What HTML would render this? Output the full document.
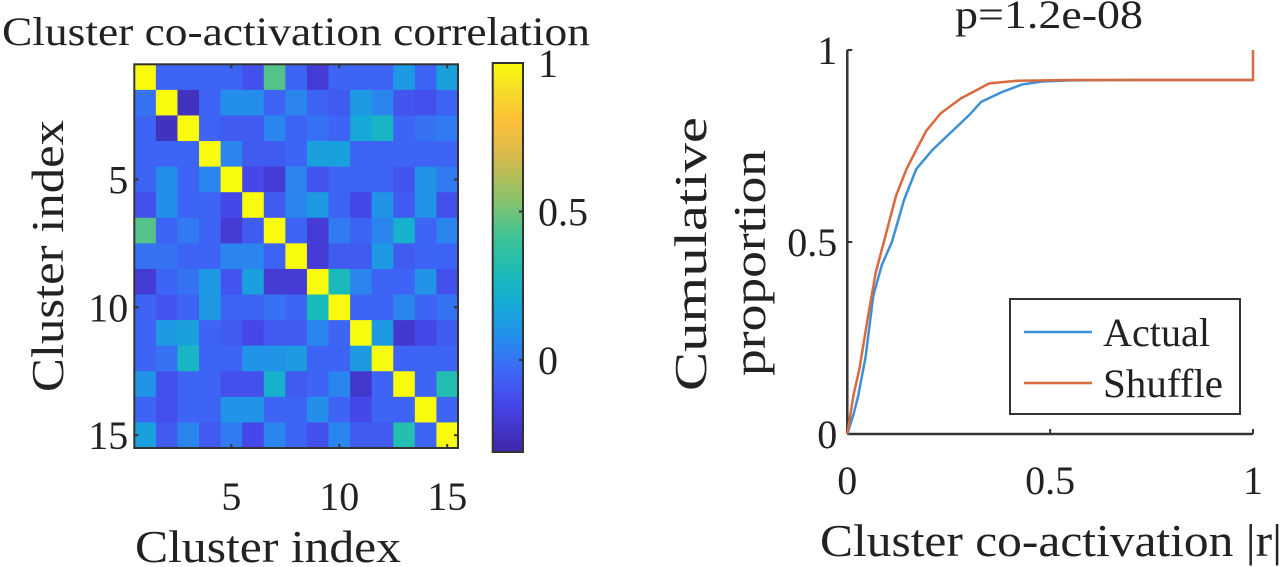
<!DOCTYPE html>
<html><head><meta charset="utf-8"><style>
body{margin:0;background:#fff;}
svg{display:block;font-family:"Liberation Serif",serif;}
</style></head><body>
<svg id="fig" width="1282" height="567" viewBox="0 0 1282 567">
<text x="2" y="45" font-size="40" textLength="588" lengthAdjust="spacingAndGlyphs" fill="#222">Cluster co-activation correlation</text>
<g id="heat"></g>
<g id="cbar"></g>
<text transform="translate(63,392) rotate(-90)" font-size="46" textLength="272" lengthAdjust="spacingAndGlyphs" fill="#222">Cluster index</text>
<text x="135" y="562" font-size="46" textLength="266" lengthAdjust="spacingAndGlyphs" fill="#222">Cluster index</text>
<text x="955" y="28" font-size="40" textLength="188" lengthAdjust="spacingAndGlyphs" fill="#222">p=1.2e-08</text>
<text transform="translate(706,391) rotate(-90)" font-size="46" textLength="274" lengthAdjust="spacingAndGlyphs" fill="#222">Cumulative</text>
<text transform="translate(765,376) rotate(-90)" font-size="46" textLength="226" lengthAdjust="spacingAndGlyphs" fill="#222">proportion</text>
<text x="820" y="556" font-size="46" textLength="462" lengthAdjust="spacingAndGlyphs" fill="#222">Cluster co-activation |r|</text>
<g id="cdf"></g>
</svg>
<script>
const NS="http://www.w3.org/2000/svg";
const heatValues=[
[1,-0.05,-0.05,-0.05,-0.05,-0.12,0.45,-0.05,-0.2,-0.05,-0.05,-0.05,0.12,-0.05,0.15],
[0,1,-0.25,-0.05,0.08,0.08,-0.05,0.05,-0.05,-0.08,0.12,0.05,-0.1,-0.12,-0.05],
[-0.05,-0.25,1,-0.05,-0.08,-0.08,0.05,-0.05,0,-0.05,0.18,0.25,-0.05,0,0.02],
[-0.05,-0.05,-0.05,1,0.05,-0.08,-0.08,-0.05,0.15,0.15,-0.05,-0.05,-0.05,-0.05,-0.05],
[-0.05,0.08,-0.05,0.05,1,-0.15,-0.2,0.05,-0.1,-0.05,-0.05,-0.05,-0.1,0.1,0.02],
[-0.12,0.08,-0.05,-0.05,-0.15,1,-0.08,0.05,0.12,-0.05,-0.15,0.1,-0.08,0.1,-0.12],
[0.45,-0.05,0.02,-0.05,-0.2,-0.08,1,-0.05,-0.2,0.02,-0.05,0.05,0.22,-0.05,0.05],
[0,0,-0.05,-0.05,0.05,0.05,-0.05,1,-0.2,-0.08,-0.08,0.12,-0.08,-0.05,-0.05],
[-0.2,-0.05,0,0.12,-0.1,0.15,-0.2,-0.2,1,0.28,0.05,-0.05,-0.05,0.1,-0.12],
[-0.05,-0.1,-0.05,0.12,-0.05,-0.05,0,-0.05,0.28,1,-0.05,-0.05,0.05,-0.05,0],
[-0.05,0.12,0.15,-0.05,-0.08,-0.15,-0.08,-0.08,0.05,-0.05,1,0.12,-0.22,-0.15,-0.08],
[-0.05,0,0.25,-0.05,-0.05,0.1,0.1,0.12,-0.05,-0.05,0.12,1,-0.05,-0.05,-0.05],
[0.1,-0.12,-0.05,-0.05,-0.12,-0.12,0.22,-0.08,-0.05,0.05,-0.22,-0.05,1,-0.05,0.32],
[-0.05,-0.12,-0.05,-0.05,0.1,0.1,-0.05,-0.05,0.08,-0.05,-0.15,-0.05,-0.05,1,-0.05],
[0.15,-0.08,0.05,-0.08,0.02,-0.15,0.05,-0.05,-0.12,0.05,-0.08,-0.08,0.32,-0.05,1]];
const heatTicks=[5,10,15];
const cbarTicks=[0,0.5,1];
const cdfX=[0,0.015,0.027,0.045,0.064,0.085,0.11,0.14,0.17,0.21,0.26,0.30,0.33,0.38,0.43,0.48,0.55,0.7,0.85,1.0];
const actualY=[0,0.05,0.1,0.2,0.36,0.44,0.5,0.61,0.69,0.74,0.79,0.83,0.865,0.89,0.91,0.918,0.921,0.922,0.922,0.922];
const shuffleX=[0,0.015,0.03,0.05,0.07,0.09,0.12,0.146,0.17,0.195,0.23,0.28,0.35,0.42,0.55,0.7,0.85,1.0,1.0];
const shuffleY=[0,0.1,0.17,0.3,0.42,0.5,0.62,0.69,0.74,0.79,0.835,0.874,0.913,0.92,0.922,0.922,0.922,0.922,1.0];
const cdfTicks=[0,0.5,1];

const stops=[[0,"#3e26a8"],[0.12,"#4646e8"],[0.22,"#3b6cf7"],[0.3,"#2390ea"],[0.38,"#15aad6"],[0.46,"#1bbcb8"],[0.55,"#3dc397"],[0.65,"#8ac36a"],[0.75,"#d0ba4e"],[0.85,"#fdbf3a"],[0.93,"#f5dd28"],[1,"#f9fb0e"]];
const vmin=-0.31,vmax=1;
function hx(h){return [1,3,5].map(i=>parseInt(h.substr(i,2),16));}
function cmap(v){let t=Math.max(0,Math.min(1,(v-vmin)/(vmax-vmin)));
 for(let i=1;i<stops.length;i++){if(t<=stops[i][0]){const a=hx(stops[i-1][1]),b=hx(stops[i][1]);const f=(t-stops[i-1][0])/(stops[i][0]-stops[i-1][0]);
 return "rgb("+a.map((c,k)=>Math.round(c+(b[k]-c)*f)).join(",")+")";}}return stops[stops.length-1][1];}
function mk(tag,attrs,parent){const e=document.createElementNS(NS,tag);for(const k in attrs)e.setAttribute(k,attrs[k]);parent.appendChild(e);return e;}

// heatmap
const H=document.getElementById("heat");
const hx0=134.3,hx1=458,hy0=64.3,hy1=448,n=heatValues.length;
const cw=(hx1-hx0)/n,ch=(hy1-hy0)/n;
const colX=j=>hx0+(j-1)*cw, rowY=i=>hy0+(i-1)*ch;
heatValues.forEach((row,i)=>row.forEach((v,j)=>{
 const r=mk("rect",{x:colX(j+1),y:rowY(i+1),width:cw+0.5,height:ch+0.5,fill:cmap(v)},H);
 
 
}));
const fr=mk("rect",{x:hx0,y:hy0,width:hx1-hx0,height:hy1-hy0,fill:"none",stroke:"#333","stroke-width":2},H);


heatTicks.forEach(t=>{
 const ty=rowY(t)+ch/2, tx=colX(t)+cw/2;
 const a=mk("text",{x:hx0-6,y:ty+14,"font-size":40,"text-anchor":"end",fill:"#222"},H);a.textContent=t;
 
 
 const b=mk("text",{x:tx,y:510,"font-size":40,"text-anchor":"middle",fill:"#222"},H);b.textContent=t;
 
 
 mk("line",{x1:hx0,x2:hx0+4,y1:ty,y2:ty,stroke:"#333","stroke-width":2},H);
 mk("line",{x1:hx1,x2:hx1-4,y1:ty,y2:ty,stroke:"#333","stroke-width":2},H);
 mk("line",{x1:tx,x2:tx,y1:hy1,y2:hy1-4,stroke:"#333","stroke-width":2},H);
 mk("line",{x1:tx,x2:tx,y1:hy0,y2:hy0+4,stroke:"#333","stroke-width":2},H);
});

// colorbar
const C=document.getElementById("cbar");
const cx0=492.7,cx1=523,cy0=63,cy1=452;
const cbY=v=>cy1-(v-vmin)/(vmax-vmin)*(cy1-cy0);
const defs=mk("defs",{},C);const lg=mk("linearGradient",{id:"cg",x1:0,y1:1,x2:0,y2:0},defs);
for(let k=0;k<=40;k++){const v=vmin+(vmax-vmin)*k/40;mk("stop",{offset:k/40,"stop-color":cmap(v)},lg);}
const cr=mk("rect",{x:cx0,y:cy0,width:cx1-cx0,height:cy1-cy0,fill:"url(#cg)",stroke:"#333","stroke-width":2},C);


cbarTicks.forEach(t=>{const y=cbY(t);
 mk("line",{x1:cx1,x2:cx1-4,y1:y,y2:y,stroke:"#333","stroke-width":2},C);
 const a=mk("text",{x:538,y:y+14,"font-size":40,fill:"#222"},C);a.textContent=t;
 
 
});

// CDF
const P=document.getElementById("cdf");
const px0=847.3,px1=1253,py0=50,py1=434;
const sx=v=>px0+v*(px1-px0), sy=v=>py1-v*(py1-py0);
mk("line",{x1:px0,x2:px0,y1:py0,y2:py1,stroke:"#333","stroke-width":2.5},P);
mk("line",{x1:px0,x2:px1,y1:py1,y2:py1,stroke:"#333","stroke-width":2.5},P);
cdfTicks.forEach(t=>{
 mk("line",{x1:px0,x2:px0+5,y1:sy(t),y2:sy(t),stroke:"#333","stroke-width":2},P);
 mk("line",{x1:sx(t),x2:sx(t),y1:py1,y2:py1-5,stroke:"#333","stroke-width":2},P);
 const a=mk("text",{x:px0-10,y:sy(t)+14,"font-size":40,"text-anchor":"end",fill:"#222"},P);a.textContent=t;
 
 
 const b=mk("text",{x:sx(t),y:494,"font-size":40,"text-anchor":"middle",fill:"#222"},P);b.textContent=t;
 
 
});
function line(xs,ys,col,name){const p=mk("polyline",{points:xs.map((x,i)=>sx(x)+","+sy(ys[i])).join(" "),fill:"none",stroke:col,"stroke-width":2.5},P);
 
 }
line(cdfX,actualY,"#3d8fd6","actual-line");
line(shuffleX,shuffleY,"#d9693e","shuffle-line");
const lgd=mk("g",{},P);


mk("rect",{x:1010,y:299,width:230,height:115,fill:"#fff",stroke:"#333","stroke-width":2},lgd);
mk("line",{x1:1024,x2:1092,y1:332,y2:332,stroke:"#3d8fd6","stroke-width":2.5},lgd);
mk("line",{x1:1024,x2:1092,y1:383,y2:383,stroke:"#d9693e","stroke-width":2.5},lgd);
const l1=mk("text",{x:1103,y:346,"font-size":40,textLength:107,lengthAdjust:"spacingAndGlyphs",fill:"#222"},lgd);l1.textContent="Actual";


const l2=mk("text",{x:1103,y:397,"font-size":40,textLength:120,lengthAdjust:"spacingAndGlyphs",fill:"#222"},lgd);l2.textContent="Shuffle";


</script>
</body></html>
